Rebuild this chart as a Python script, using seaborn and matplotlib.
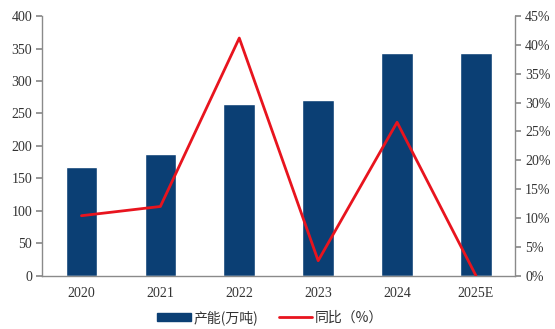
import numpy as np
import pandas as pd
import matplotlib
matplotlib.use("Agg")
import matplotlib.pyplot as plt
import seaborn as sns
from matplotlib.patches import Patch
from matplotlib.lines import Line2D

years = ["2020", "2021", "2022", "2023", "2024", "2025E"]
capacity = [167, 187, 264, 271, 343, 343]          # 产能（万吨）
yoy_pct = [10.4, 12.0, 41.2, 2.6, 26.6, 0.0]        # 同比（%）

bar_color = "#0B3F74"
line_color = "#E8141E"
axis_color = "#8A8A8A"
text_color = "#333333"

sns.set_theme(style="white")
plt.rcParams["font.family"] = ["Liberation Serif", "Noto Sans CJK SC"]

df = pd.DataFrame({"year": years, "capacity": capacity, "yoy": yoy_pct,
                   "pos": np.arange(len(years))})

fig = plt.figure(figsize=(5.55, 3.29), dpi=100)
ax = fig.add_axes([0.0757, 0.162, 0.853, 0.789])

sns.barplot(data=df, x="year", y="capacity", color=bar_color, width=0.4,
            saturation=1, ax=ax, zorder=2)
ax.set_xlim(-0.5, len(years) - 0.5)
ax.set_ylim(0, 400)
ax.set_yticks(np.arange(0, 401, 50))
ax.set_xlabel("")
ax.set_ylabel("")

ax2 = ax.twinx()
sns.lineplot(data=df, x="pos", y="yoy", color=line_color, linewidth=2,
             ax=ax2, zorder=3)
ax2.set_xlim(-0.5, len(years) - 0.5)
ax2.set_ylim(0, 45)
ax2.set_yticks(np.arange(0, 46, 5))
ax2.set_yticklabels([f"{v}%" for v in range(0, 46, 5)])
ax2.set_ylabel("")
ax2.set_xlabel("")

for a in (ax, ax2):
    for s in a.spines.values():
        s.set_visible(False)
ax.spines["left"].set_visible(True)
ax.spines["bottom"].set_visible(True)
ax2.spines["right"].set_visible(True)
for s in (ax.spines["left"], ax.spines["bottom"], ax2.spines["right"]):
    s.set_color(axis_color)
    s.set_linewidth(1)

ax.set_xticks(np.arange(len(years)))
ax.set_xticklabels(years)
ax.set_xticks(np.arange(-0.5, len(years)), minor=True)
ax.tick_params(axis="x", which="major", length=0, pad=8,
               labelsize=10, labelcolor=text_color)
ax.tick_params(axis="x", which="minor", length=4, direction="out",
               color=axis_color, width=1)
ax.tick_params(axis="y", left=True, length=4, direction="out", color=axis_color,
               labelsize=10, labelcolor=text_color, pad=3)
ax2.tick_params(axis="y", right=True, length=4, direction="out", color=axis_color,
                labelsize=10, labelcolor=text_color, pad=3)

handles = [Patch(facecolor=bar_color, edgecolor=bar_color),
           Line2D([0], [0], color=line_color, linewidth=2)]
fig.legend(handles, ["产能(万吨)", "同比（%）"], loc="center",
           bbox_to_anchor=(0.487, 0.035), ncol=2, frameon=False,
           prop={"family": ["Noto Sans CJK SC"], "size": 10},
           handlelength=2.4, handleheight=0.5, columnspacing=1.5,
           handletextpad=0.2, labelcolor=text_color)

fig.savefig("out.png", dpi=100)
